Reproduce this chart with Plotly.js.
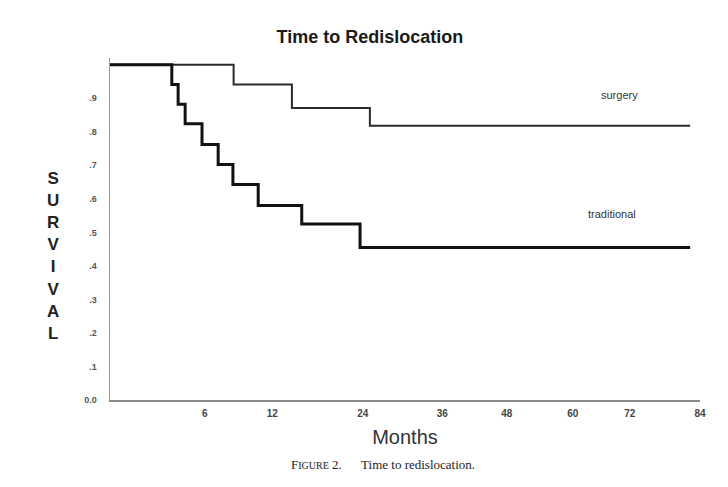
<!DOCTYPE html>
<html>
<head>
<meta charset="utf-8">
<script src="https://cdn.plot.ly/plotly-3.0.1.min.js"></script>
<style>
  html, body { margin: 0; padding: 0; background: #fff; }
  #chart { width: 728px; height: 487px; }
</style>
</head>
<body>
<div id="chart"></div>
<script>
// Kaplan-Meier step data (months, survival proportion)
const traditionalMonths = [0, 8.8, 9.7, 10.7, 13.1, 15.4, 17.5, 21.1, 27.3, 35.6, 82.6];
const traditionalSurvival = [1.0, 0.941, 0.882, 0.824, 0.762, 0.702, 0.643, 0.580, 0.525, 0.455, 0.455];
const surgeryMonths = [0, 17.6, 25.9, 37.0, 82.6];
const surgerySurvival = [1.0, 0.941, 0.871, 0.818, 0.818];

// Tick labels as printed on the original axes
const xTickText = ["6", "12", "24", "36", "48", "60", "72", "84"];
const xTickVals = [13.5, 23.1, 36.0, 47.3, 56.5, 65.9, 74.0, 84.0];
const yTickVals = [0, 0.1, 0.2, 0.3, 0.4, 0.5, 0.6, 0.7, 0.8, 0.9];
const yTickText = ["0.0", ".1", ".2", ".3", ".4", ".5", ".6", ".7", ".8", ".9"];

const traces = [
  {
    x: surgeryMonths, y: surgerySurvival, type: "scatter", mode: "lines",
    line: { shape: "hv", color: "#2a2a2a", width: 2 },
    name: "surgery", hoverinfo: "x+y"
  },
  {
    x: traditionalMonths, y: traditionalSurvival, type: "scatter", mode: "lines",
    line: { shape: "hv", color: "#111111", width: 3 },
    name: "traditional", hoverinfo: "x+y"
  }
];

const layout = {
  width: 728, height: 487,
  paper_bgcolor: "#ffffff", plot_bgcolor: "#ffffff",
  showlegend: false,
  margin: { l: 110, r: 28, t: 58, b: 87 },
  font: { family: "Liberation Sans, Arial, sans-serif", color: "#222" },
  title: {
    text: "<b>Time to Redislocation</b>",
    font: { size: 18, color: "#1a1a1a", family: "Liberation Sans, Arial, sans-serif" },
    xref: "container", x: 0.508, xanchor: "center",
    yref: "container", y: 0.924, yanchor: "middle"
  },
  xaxis: {
    range: [0, 84],
    showgrid: false, zeroline: false,
    showline: true, linecolor: "#8a8a8a", linewidth: 2,
    ticks: "",
    tickmode: "array", tickvals: xTickVals, ticktext: xTickText,
    tickfont: { size: 10, color: "#444", family: "Liberation Sans, Arial, sans-serif", weight: "bold" },
    ticklabelstandoff: 3,
    title: { text: "Months", font: { size: 20, color: "#333" }, standoff: 12 }
  },
  yaxis: {
    range: [0, 1.02],
    showgrid: false, zeroline: false,
    showline: true, linecolor: "#9a9a9a", linewidth: 1.5,
    ticks: "",
    tickmode: "array", tickvals: yTickVals, ticktext: yTickText,
    tickfont: { size: 9, color: "#555", family: "Liberation Sans, Arial, sans-serif", weight: "bold" },
    ticklabelstandoff: 10
  },
  annotations: [
    {
      text: "<b>S<br>U<br>R<br>V<br>I<br>V<br>A<br>L</b>",
      xref: "paper", yref: "paper", x: -0.0966, y: 0.421,
      xanchor: "center", yanchor: "middle", showarrow: false,
      font: { size: 17, color: "#222" }
    },
    {
      text: "surgery", xref: "x", yref: "y", x: 72.5, y: 0.909,
      xanchor: "center", yanchor: "middle", showarrow: false,
      font: { size: 11, color: "#333" }
    },
    {
      text: "traditional", xref: "x", yref: "y", x: 71.5, y: 0.554,
      xanchor: "center", yanchor: "middle", showarrow: false,
      font: { size: 11, color: "#333" }
    },
    {
      text: "F<span style=\"font-size:10px\">IGURE</span> 2.&nbsp;&nbsp;&nbsp;&nbsp;&nbsp; Time to redislocation.",
      xref: "paper", yref: "paper", x: 0.463, y: -0.19,
      xanchor: "center", yanchor: "middle", showarrow: false,
      font: { size: 13, color: "#222", family: "Liberation Serif, Times New Roman, serif" }
    }
  ]
};

Plotly.newPlot("chart", traces, layout, { displayModeBar: false, staticPlot: true });
</script>
</body>
</html>
